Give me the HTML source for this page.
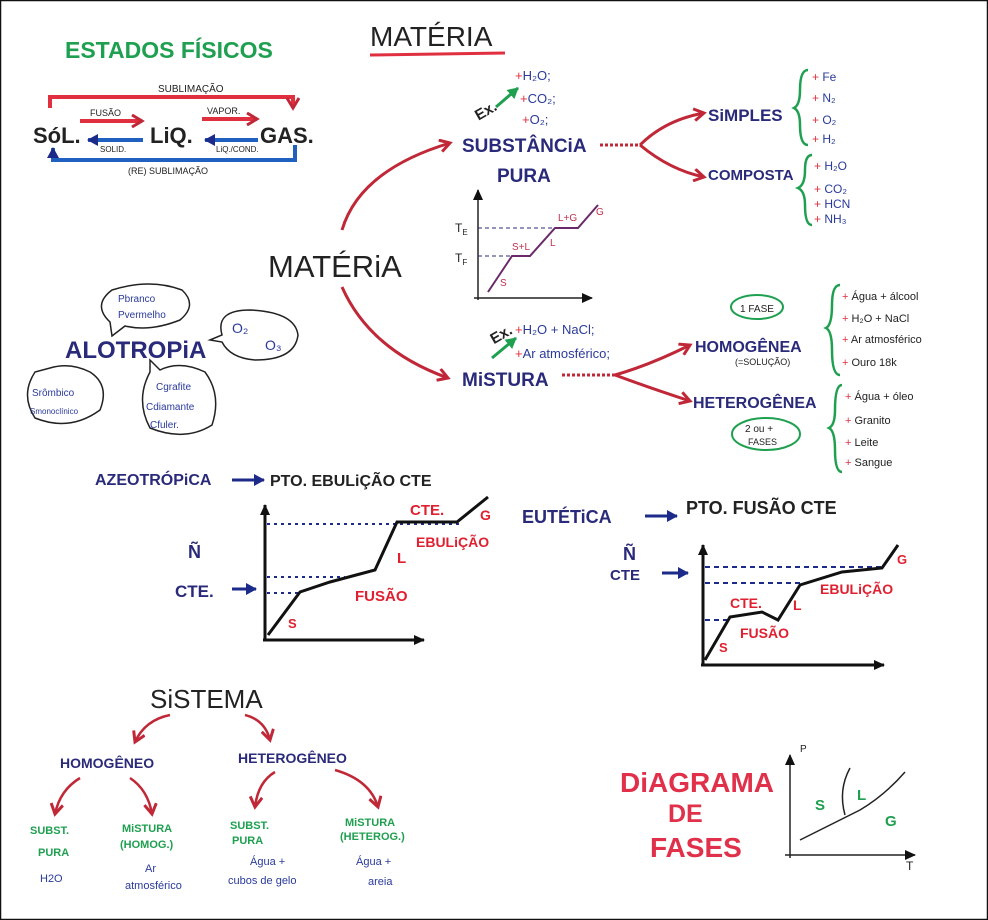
<!DOCTYPE html>
<html><head><meta charset="utf-8"><style>
body{margin:0;background:#fff}
svg{display:block}
text{font-family:"Liberation Sans",sans-serif}
.n{fill:#2a2a7a;font-weight:bold}
.r{fill:#e02030;font-weight:bold}
.g{fill:#1fa050;font-weight:bold}
.k{fill:#222;font-weight:bold}
.b{fill:#2a3a9a}
</style></head><body>
<svg width="988" height="920" viewBox="0 0 988 920" xmlns="http://www.w3.org/2000/svg">
<defs>
<marker id="ar" markerUnits="userSpaceOnUse" markerWidth="14" markerHeight="14" refX="11" refY="7" orient="auto"><path d="M1,1 L11,7 L1,13" fill="none" stroke="#c02838" stroke-width="3"/></marker>
<marker id="ab" markerUnits="userSpaceOnUse" markerWidth="12" markerHeight="12" refX="10" refY="6" orient="auto"><path d="M0,0 L11,6 L0,12 z" fill="#1c2a8a"/></marker>
<marker id="ak" markerUnits="userSpaceOnUse" markerWidth="12" markerHeight="12" refX="10" refY="6" orient="auto"><path d="M0,1 L11,6 L0,11 z" fill="#111"/></marker>
<marker id="aks" markerUnits="userSpaceOnUse" markerWidth="12" markerHeight="12" refX="1" refY="6" orient="auto"><path d="M11,1 L0,6 L11,11 z" fill="#111"/></marker>
<marker id="ag" markerUnits="userSpaceOnUse" markerWidth="12" markerHeight="12" refX="10" refY="6" orient="auto"><path d="M0,0 L11,6 L0,12 z" fill="#1fa050"/></marker>
</defs>
<rect x="0.5" y="0.5" width="987" height="919" fill="#fff" stroke="#111" stroke-width="1.5"/>

<!-- Estados fisicos -->
<text x="65" y="58" class="g" font-size="23">ESTADOS FÍSICOS</text>
<path d="M50,108 V97 H293 V108" fill="none" stroke="#e03040" stroke-width="4" marker-end="url(#ar)"/>
<text x="158" y="92" font-size="10" fill="#222">SUBLIMAÇÃO</text>
<text x="33" y="143" class="k" font-size="22">SóL.</text>
<text x="150" y="143" class="k" font-size="22">LiQ.</text>
<text x="260" y="143" class="k" font-size="22">GAS.</text>
<line x1="80" y1="121" x2="142" y2="121" stroke="#e03040" stroke-width="4" marker-end="url(#ar)"/>
<text x="90" y="116" font-size="9" fill="#222">FUSÃO</text>
<line x1="143" y1="140" x2="88" y2="140" stroke="#2060c0" stroke-width="4" marker-end="url(#ab)"/>
<text x="100" y="152" font-size="8" fill="#222">SOLID.</text>
<line x1="202" y1="119" x2="257" y2="119" stroke="#e03040" stroke-width="4" marker-end="url(#ar)"/>
<text x="207" y="114" font-size="9" fill="#222">VAPOR.</text>
<line x1="258" y1="140" x2="205" y2="140" stroke="#2060c0" stroke-width="4" marker-end="url(#ab)"/>
<text x="216" y="152" font-size="8" fill="#222">LiQ./COND.</text>
<path d="M295,145 V160 H53 V148" fill="none" stroke="#2060c0" stroke-width="4" marker-end="url(#ab)"/>
<text x="128" y="174" font-size="9" fill="#222">(RE) SUBLIMAÇÃO</text>

<!-- Materia -->
<text x="370" y="46" font-size="28" fill="#222">MATÉRIA</text>
<line x1="370" y1="55" x2="505" y2="53" stroke="#e03040" stroke-width="3"/>
<text x="268" y="277" font-size="31" fill="#222">MATÉRiA</text>
<path d="M342,230 Q360,170 450,143" fill="none" stroke="#c02838" stroke-width="3" marker-end="url(#ar)"/>
<path d="M342,287 Q370,350 448,378" fill="none" stroke="#c02838" stroke-width="3" marker-end="url(#ar)"/>

<text x="462" y="152" class="n" font-size="19">SUBSTÂNCiA</text>
<text x="497" y="182" class="n" font-size="19">PURA</text>
<text x="474" y="116" class="k" font-size="15" transform="rotate(-30 485 110)">Ex.</text>
<line x1="496" y1="107" x2="518" y2="88" stroke="#1fa050" stroke-width="3" marker-end="url(#ag)"/>
<text x="515" y="80" class="b" font-size="13"><tspan fill="#e03040">+</tspan>H₂O;</text>
<text x="520" y="103" class="b" font-size="13"><tspan fill="#e03040">+</tspan>CO₂;</text>
<text x="522" y="124" class="b" font-size="13"><tspan fill="#e03040">+</tspan>O₂;</text>

<line x1="600" y1="145" x2="640" y2="145" stroke="#c02838" stroke-width="3" stroke-dasharray="3 2"/>
<path d="M640,145 Q665,120 704,113" fill="none" stroke="#c02838" stroke-width="3" marker-end="url(#ar)"/>
<path d="M640,145 Q670,170 704,177" fill="none" stroke="#c02838" stroke-width="3" marker-end="url(#ar)"/>
<text x="708" y="121" class="n" font-size="17">SiMPLES</text>
<text x="708" y="180" class="n" font-size="15">COMPOSTA</text>
<path d="M808,70 Q800,70 800,90 Q800,105 794,108 Q800,111 800,125 Q800,145 808,145" fill="none" stroke="#1fa050" stroke-width="2.5"/>
<g class="b" font-size="12"><text x="812" y="81"><tspan fill="#e03040">+ </tspan>Fe</text><text x="812" y="102"><tspan fill="#e03040">+ </tspan>N₂</text><text x="812" y="124"><tspan fill="#e03040">+ </tspan>O₂</text><text x="812" y="143"><tspan fill="#e03040">+ </tspan>H₂</text>
<text x="814" y="170"><tspan fill="#e03040">+ </tspan>H₂O</text><text x="814" y="193"><tspan fill="#e03040">+ </tspan>CO₂</text><text x="814" y="208"><tspan fill="#e03040">+ </tspan>HCN</text><text x="814" y="223"><tspan fill="#e03040">+ </tspan>NH₃</text></g>
<path d="M812,155 Q805,155 805,170 Q805,185 798,188 Q805,191 805,205 Q805,225 812,225" fill="none" stroke="#1fa050" stroke-width="2.5"/>

<!-- small graph -->
<line x1="478" y1="190" x2="478" y2="300" stroke="#222" stroke-width="1.5" marker-start="url(#aks)"/>
<line x1="474" y1="298" x2="592" y2="298" stroke="#222" stroke-width="1.5" marker-end="url(#ak)"/>
<text x="455" y="232" font-size="12" fill="#222">T<tspan font-size="8" dy="3">E</tspan></text>
<text x="455" y="262" font-size="12" fill="#222">T<tspan font-size="8" dy="3">F</tspan></text>
<line x1="478" y1="228" x2="555" y2="228" stroke="#2a2a7a" stroke-dasharray="4 3"/>
<line x1="478" y1="256" x2="515" y2="256" stroke="#2a2a7a" stroke-dasharray="4 3"/>
<path d="M488,292 L512,256 L530,256 L555,228 L578,228 L598,205" fill="none" stroke="#6a2a6a" stroke-width="2"/>
<g font-size="10" fill="#c03050"><text x="500" y="286">S</text><text x="512" y="250">S+L</text><text x="550" y="246">L</text><text x="558" y="221">L+G</text><text x="596" y="215">G</text></g>

<!-- Mistura -->
<text x="462" y="386" class="n" font-size="19">MiSTURA</text>
<text x="490" y="340" class="k" font-size="15" transform="rotate(-30 500 335)">Ex.</text>
<line x1="492" y1="358" x2="516" y2="338" stroke="#1fa050" stroke-width="3" marker-end="url(#ag)"/>
<text x="515" y="334" class="b" font-size="13"><tspan fill="#e03040">+</tspan>H₂O + NaCl;</text>
<text x="515" y="358" class="b" font-size="13"><tspan fill="#e03040">+</tspan>Ar atmosférico;</text>
<line x1="562" y1="375" x2="615" y2="375" stroke="#c02838" stroke-width="3" stroke-dasharray="3 2"/>
<path d="M615,375 Q650,365 690,345" fill="none" stroke="#c02838" stroke-width="3" marker-end="url(#ar)"/>
<path d="M615,375 Q650,388 690,401" fill="none" stroke="#c02838" stroke-width="3" marker-end="url(#ar)"/>
<text x="695" y="352" class="n" font-size="16">HOMOGÊNEA</text>
<text x="735" y="365" font-size="9" fill="#222">(=SOLUÇÃO)</text>
<text x="693" y="408" class="n" font-size="16">HETEROGÊNEA</text>
<ellipse cx="757" cy="307" rx="26" ry="12" fill="none" stroke="#1fa050" stroke-width="2"/>
<text x="740" y="312" font-size="10" fill="#222">1 FASE</text>
<ellipse cx="766" cy="434" rx="34" ry="16" fill="none" stroke="#1fa050" stroke-width="2"/>
<text x="745" y="432" font-size="10" fill="#222">2 ou +</text><text x="748" y="445" font-size="9" fill="#222">FASES</text>
<path d="M840,285 Q832,285 832,305 Q832,325 826,328 Q832,331 832,350 Q832,375 840,375" fill="none" stroke="#1fa050" stroke-width="2.5"/>
<path d="M842,385 Q835,385 835,410 Q835,425 829,428 Q835,431 835,450 Q835,472 842,472" fill="none" stroke="#1fa050" stroke-width="2.5"/>
<g font-size="11" fill="#222"><text x="842" y="300"><tspan fill="#e03040">+ </tspan>Água + álcool</text><text x="842" y="322"><tspan fill="#e03040">+ </tspan>H₂O + NaCl</text><text x="842" y="343"><tspan fill="#e03040">+ </tspan>Ar atmosférico</text><text x="842" y="366"><tspan fill="#e03040">+ </tspan>Ouro 18k</text>
<text x="845" y="400"><tspan fill="#e03040">+ </tspan>Água + óleo</text><text x="845" y="424"><tspan fill="#e03040">+ </tspan>Granito</text><text x="845" y="446"><tspan fill="#e03040">+ </tspan>Leite</text><text x="845" y="466"><tspan fill="#e03040">+ </tspan>Sangue</text></g>

<!-- Alotropia -->
<text x="65" y="358" class="n" font-size="24">ALOTROPiA</text>
<path d="M110,322 Q92,305 112,290 Q150,278 182,290 Q198,305 180,320 Q150,332 125,326 L112,336 z" fill="none" stroke="#222" stroke-width="1.5"/>
<text x="118" y="302" font-size="10" class="b">Pbranco</text><text x="118" y="318" font-size="10" class="b">Pvermelho</text>
<path d="M222,335 Q215,310 250,310 Q295,312 298,335 Q295,360 255,360 Q230,358 222,342 L210,340 z" fill="none" stroke="#222" stroke-width="1.5"/>
<text x="232" y="333" font-size="14" class="b">O₂</text><text x="265" y="350" font-size="14" class="b">O₃</text>
<path d="M35,372 Q20,395 35,418 Q70,432 100,410 Q110,385 90,372 Q70,362 50,368 z" fill="none" stroke="#222" stroke-width="1.5"/>
<text x="32" y="396" font-size="10" class="b">Srômbico</text><text x="30" y="414" font-size="8" class="b">Smonoclínico</text>
<path d="M150,372 Q135,400 150,428 Q185,442 212,425 Q222,395 205,372 Q180,360 160,370 L150,360 z" fill="none" stroke="#222" stroke-width="1.5"/>
<text x="156" y="390" font-size="10" class="b">Cgrafite</text><text x="146" y="410" font-size="10" class="b">Cdiamante</text><text x="150" y="428" font-size="10" class="b">Cfuler.</text>

<!-- Azeotropica -->
<text x="95" y="485" class="n" font-size="16">AZEOTRÓPiCA</text>
<line x1="232" y1="480" x2="264" y2="480" stroke="#1c2a8a" stroke-width="3" marker-end="url(#ab)"/>
<text x="270" y="486" class="k" font-size="16">PTO. EBULiÇÃO CTE</text>
<line x1="265" y1="505" x2="265" y2="640" stroke="#111" stroke-width="3" marker-start="url(#aks)"/>
<line x1="263" y1="640" x2="424" y2="640" stroke="#111" stroke-width="3" marker-end="url(#ak)"/>
<g stroke="#1c2a8a" stroke-width="2" stroke-dasharray="3 4"><line x1="267" y1="524" x2="460" y2="524"/><line x1="267" y1="577" x2="345" y2="577"/><line x1="267" y1="593" x2="300" y2="593"/></g>
<path d="M268,635 L300,592 L330,582 L375,570 L397,522 L457,522 L488,497" fill="none" stroke="#111" stroke-width="3"/>
<text x="288" y="628" class="r" font-size="13">S</text>
<text x="355" y="601" class="r" font-size="15">FUSÃO</text>
<text x="397" y="563" class="r" font-size="15">L</text>
<text x="410" y="515" class="r" font-size="15">CTE.</text>
<text x="416" y="547" class="r" font-size="14">EBULiÇÃO</text>
<text x="480" y="520" class="r" font-size="14">G</text>
<text x="188" y="558" class="n" font-size="18">Ñ</text>
<text x="175" y="597" class="n" font-size="17">CTE.</text>
<line x1="232" y1="589" x2="256" y2="589" stroke="#1c2a8a" stroke-width="3" marker-end="url(#ab)"/>

<!-- Eutetica -->
<text x="522" y="523" class="n" font-size="18">EUTÉTiCA</text>
<line x1="645" y1="516" x2="677" y2="516" stroke="#1c2a8a" stroke-width="3" marker-end="url(#ab)"/>
<text x="686" y="514" class="k" font-size="18">PTO. FUSÃO CTE</text>
<line x1="703" y1="545" x2="703" y2="665" stroke="#111" stroke-width="3" marker-start="url(#aks)"/>
<line x1="701" y1="665" x2="884" y2="665" stroke="#111" stroke-width="3" marker-end="url(#ak)"/>
<g stroke="#1c2a8a" stroke-width="2" stroke-dasharray="5 4"><line x1="705" y1="567" x2="885" y2="567"/><line x1="705" y1="583" x2="800" y2="583"/><line x1="705" y1="620" x2="730" y2="620"/></g>
<path d="M705,660 L730,617 L762,612 L778,620 L800,585 L842,572 L882,568 L898,545" fill="none" stroke="#111" stroke-width="3"/>
<text x="719" y="652" class="r" font-size="13">S</text>
<text x="730" y="608" class="r" font-size="14">CTE.</text>
<text x="740" y="638" class="r" font-size="14">FUSÃO</text>
<text x="793" y="610" class="r" font-size="14">L</text>
<text x="820" y="594" class="r" font-size="14">EBULiÇÃO</text>
<text x="897" y="564" class="r" font-size="13">G</text>
<text x="623" y="560" class="n" font-size="18">Ñ</text>
<text x="610" y="580" class="n" font-size="15">CTE</text>
<line x1="662" y1="573" x2="688" y2="573" stroke="#1c2a8a" stroke-width="3" marker-end="url(#ab)"/>

<!-- Sistema -->
<text x="150" y="708" font-size="26" fill="#222">SiSTEMA</text>
<path d="M170,715 Q145,720 135,742" fill="none" stroke="#c02838" stroke-width="2.5" marker-end="url(#ar)"/>
<path d="M245,715 Q265,720 270,740" fill="none" stroke="#c02838" stroke-width="2.5" marker-end="url(#ar)"/>
<text x="60" y="768" class="n" font-size="14">HOMOGÊNEO</text>
<text x="238" y="763" class="n" font-size="14">HETEROGÊNEO</text>
<path d="M80,778 Q60,790 55,814" fill="none" stroke="#c02838" stroke-width="2.5" marker-end="url(#ar)"/>
<path d="M130,778 Q148,790 152,814" fill="none" stroke="#c02838" stroke-width="2.5" marker-end="url(#ar)"/>
<path d="M275,772 Q258,782 255,807" fill="none" stroke="#c02838" stroke-width="2.5" marker-end="url(#ar)"/>
<path d="M335,770 Q370,780 378,807" fill="none" stroke="#c02838" stroke-width="2.5" marker-end="url(#ar)"/>
<g class="g" font-size="11"><text x="30" y="834">SUBST.</text><text x="38" y="856">PURA</text>
<text x="122" y="832">MiSTURA</text><text x="120" y="848">(HOMOG.)</text>
<text x="230" y="829">SUBST.</text><text x="232" y="844">PURA</text>
<text x="345" y="826">MiSTURA</text><text x="340" y="840">(HETEROG.)</text></g>
<g class="b" font-size="11"><text x="40" y="882">H2O</text><text x="145" y="872">Ar</text><text x="125" y="889">atmosférico</text>
<text x="250" y="865">Água +</text><text x="228" y="884">cubos de gelo</text>
<text x="356" y="865">Água +</text><text x="368" y="885">areia</text></g>

<!-- Diagrama de fases -->
<text x="620" y="792" font-size="28" fill="#e0304a" font-weight="bold">DiAGRAMA</text>
<text x="668" y="822" font-size="25" fill="#e0304a" font-weight="bold">DE</text>
<text x="650" y="857" font-size="28" fill="#e0304a" font-weight="bold">FASES</text>
<line x1="790" y1="755" x2="790" y2="858" stroke="#222" stroke-width="1.5" marker-start="url(#aks)"/>
<line x1="785" y1="855" x2="915" y2="855" stroke="#222" stroke-width="1.5" marker-end="url(#ak)"/>
<text x="800" y="752" font-size="10" fill="#222">P</text>
<text x="906" y="870" font-size="12" fill="#222">T</text>
<path d="M800,840 Q840,820 860,810 Q885,795 905,772" fill="none" stroke="#222" stroke-width="1.5"/>
<path d="M850,768 Q838,790 845,815" fill="none" stroke="#222" stroke-width="1.5"/>
<text x="815" y="810" class="g" font-size="15">S</text>
<text x="857" y="800" class="g" font-size="15">L</text>
<text x="885" y="826" class="g" font-size="15">G</text>
</svg>
</body></html>
